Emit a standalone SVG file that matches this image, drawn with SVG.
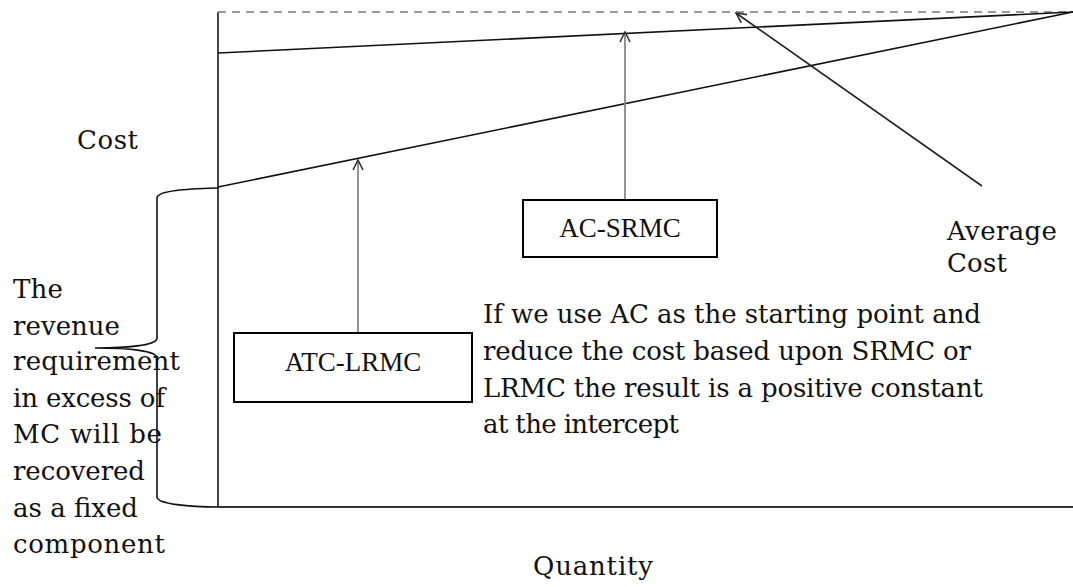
<svg xmlns="http://www.w3.org/2000/svg" width="1073" height="587" viewBox="0 0 1073 587">
<style>
.t{font-family:"DejaVu Serif","Liberation Serif",serif;font-size:26px;fill:#111}
.b{font-family:"Liberation Serif",serif;font-size:27px;fill:#111}
.ln{stroke:#111;stroke-width:1.6;fill:none}
.ax{stroke:#333;stroke-width:1.8;fill:none}
.ar{stroke:#888;stroke-width:1.8;fill:none}
.ar2{stroke:#222;stroke-width:1.6;fill:none}
.box{fill:#fff;stroke:#000;stroke-width:2}
</style>
<defs>
<marker id="ah" viewBox="0 0 12 12" refX="11" refY="6" markerWidth="12" markerHeight="12" markerUnits="userSpaceOnUse" orient="auto">
<path d="M1,1 L11,6 L1,11" fill="none" stroke="#333" stroke-width="1.6"/>
</marker>
</defs>
<g id="axes">
<line class="ax" x1="218" y1="12" x2="218" y2="507"/>
<line class="ax" x1="218" y1="507" x2="1073" y2="507"/>
<line x1="218" y1="12" x2="1073" y2="12" stroke="#999" stroke-width="1.8" stroke-dasharray="8,6"/>
</g>
<g id="curves">
<line class="ln" x1="218" y1="53" x2="1073" y2="12"/>
<line class="ln" x1="218" y1="187" x2="1073" y2="12"/>
<path class="ln" d="M218,188 C190,189 157,190 157,198 L157,338 C157,345 130,348 95,348 C130,348 157,351 157,358 L157,497 C157,504 190,507 218,507"/>
</g>
<g id="connectors">
<line class="ar" x1="358" y1="333" x2="358" y2="160" marker-end="url(#ah)"/>
<line class="ar" x1="625" y1="200" x2="625" y2="32" marker-end="url(#ah)"/>
<line class="ar2" x1="982" y1="186" x2="736" y2="13" marker-end="url(#ah)"/>
</g>
<g id="atc-lrmc">
<rect class="box" x="234" y="333" width="238" height="69"/>
<text class="b" x="353" y="371" text-anchor="middle">ATC-LRMC</text>
</g>
<g id="ac-srmc">
<rect class="box" x="523" y="200" width="194" height="57"/>
<text class="b" x="620" y="237" text-anchor="middle">AC-SRMC</text>
</g>
<g id="labels">
<text class="t" x="77" y="149" textLength="61">Cost</text>
<text class="t" x="947" y="240" textLength="110">Average</text>
<text class="t" x="947" y="272" textLength="60">Cost</text>
<text class="t" x="533" y="575" textLength="120">Quantity</text>
</g>
<g id="note-left">
<text class="t" x="13" y="298" textLength="50">The</text>
<text class="t" x="13" y="335" textLength="107">revenue</text>
<text class="t" x="13" y="370" textLength="167">requirement</text>
<text class="t" x="13" y="407" textLength="152">in excess of</text>
<text class="t" x="13" y="443" textLength="149">MC will be</text>
<text class="t" x="13" y="480" textLength="132">recovered</text>
<text class="t" x="13" y="517" textLength="125">as a fixed</text>
<text class="t" x="13" y="553" textLength="152">component</text>
</g>
<g id="note-right">
<text class="t" x="483" y="323" textLength="498">If we use AC as the starting point and</text>
<text class="t" x="483" y="360" textLength="488">reduce the cost based upon SRMC or</text>
<text class="t" x="483" y="397" textLength="500">LRMC the result is a positive constant</text>
<text class="t" x="483" y="433" textLength="196">at the intercept</text>
</g>
</svg>
